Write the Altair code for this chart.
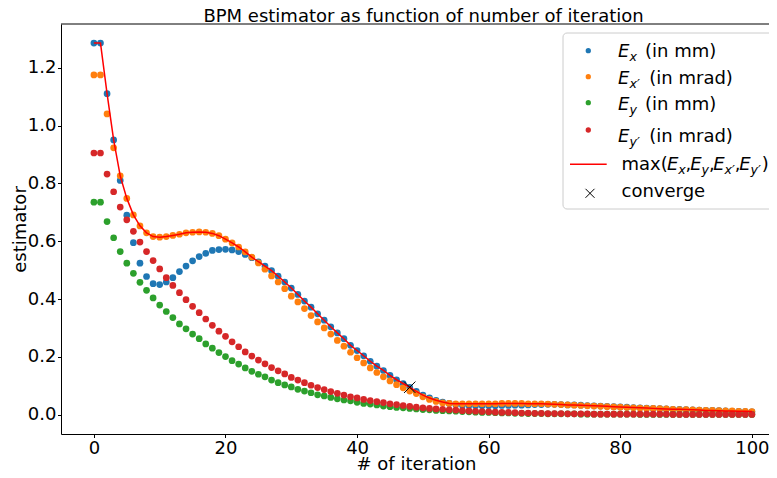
import altair as alt
import pandas as pd

# ---------------- data ----------------
iterations = list(range(101))

ex = [1.285, 1.285, 1.110, 0.950, 0.810, 0.690, 0.595, 0.524, 0.478, 0.453,
      0.450, 0.459, 0.474, 0.495, 0.514, 0.532, 0.547, 0.558, 0.568, 0.571,
      0.572, 0.570, 0.564, 0.554, 0.543, 0.529, 0.514, 0.498, 0.479, 0.459,
      0.438, 0.416, 0.393, 0.372, 0.349, 0.327, 0.304, 0.283, 0.263, 0.240,
      0.222, 0.204, 0.185, 0.168, 0.153, 0.136, 0.121, 0.108, 0.095, 0.081,
      0.068, 0.058, 0.050, 0.044, 0.039, 0.035, 0.033, 0.032, 0.031, 0.031,
      0.031, 0.031, 0.032, 0.032, 0.033, 0.033, 0.034, 0.035, 0.035, 0.036,
      0.036, 0.035, 0.034, 0.034, 0.033, 0.032, 0.031, 0.030, 0.029, 0.028,
      0.027, 0.026, 0.025, 0.024, 0.023, 0.022, 0.021, 0.020, 0.019, 0.019,
      0.018, 0.017, 0.016, 0.015, 0.015, 0.014, 0.013, 0.012, 0.012, 0.011,
      0.010]

exp = [1.175, 1.175, 1.040, 0.923, 0.826, 0.748, 0.691, 0.653, 0.629, 0.616,
       0.614, 0.616, 0.620, 0.624, 0.629, 0.631, 0.632, 0.631, 0.627, 0.619,
       0.607, 0.594, 0.580, 0.563, 0.545, 0.525, 0.503, 0.480, 0.459, 0.436,
       0.410, 0.390, 0.367, 0.343, 0.321, 0.300, 0.279, 0.257, 0.237, 0.216,
       0.197, 0.179, 0.162, 0.146, 0.131, 0.117, 0.104, 0.093, 0.082, 0.073,
       0.062, 0.053, 0.046, 0.041, 0.039, 0.038, 0.038, 0.038, 0.038, 0.038,
       0.038, 0.038, 0.039, 0.039, 0.039, 0.039, 0.038, 0.038, 0.038, 0.037,
       0.036, 0.035, 0.034, 0.033, 0.032, 0.031, 0.030, 0.029, 0.028, 0.027,
       0.026, 0.025, 0.024, 0.023, 0.022, 0.022, 0.021, 0.020, 0.019, 0.018,
       0.018, 0.017, 0.016, 0.015, 0.015, 0.014, 0.013, 0.013, 0.012, 0.012,
       0.011]

ey = [0.735, 0.735, 0.668, 0.612, 0.564, 0.524, 0.489, 0.458, 0.430, 0.404,
      0.379, 0.357, 0.336, 0.314, 0.297, 0.279, 0.263, 0.245, 0.230, 0.215,
      0.201, 0.187, 0.175, 0.162, 0.150, 0.140, 0.131, 0.120, 0.111, 0.103,
      0.096, 0.088, 0.082, 0.076, 0.069, 0.065, 0.060, 0.055, 0.051, 0.048,
      0.043, 0.039, 0.037, 0.034, 0.030, 0.028, 0.025, 0.024, 0.022, 0.020,
      0.018, 0.017, 0.015, 0.014, 0.013, 0.012, 0.011, 0.010, 0.009, 0.008,
      0.008, 0.007, 0.006, 0.006, 0.005, 0.005, 0.004, 0.004, 0.004, 0.003,
      0.003, 0.003, 0.003, 0.003, 0.002, 0.002, 0.002, 0.002, 0.002, 0.002,
      0.002, 0.002, 0.002, 0.001, 0.001, 0.001, 0.001, 0.001, 0.001, 0.001,
      0.001, 0.001, 0.001, 0.001, 0.001, 0.001, 0.001, 0.001, 0.001, 0.001,
      0.001]

eyp = [0.905, 0.905, 0.832, 0.771, 0.718, 0.674, 0.634, 0.597, 0.564, 0.533,
       0.504, 0.474, 0.447, 0.422, 0.398, 0.375, 0.353, 0.331, 0.309, 0.289,
       0.271, 0.252, 0.235, 0.217, 0.203, 0.189, 0.176, 0.163, 0.152, 0.141,
       0.129, 0.120, 0.111, 0.102, 0.094, 0.087, 0.080, 0.074, 0.068, 0.062,
       0.058, 0.053, 0.049, 0.045, 0.042, 0.038, 0.035, 0.032, 0.029, 0.026,
       0.024, 0.022, 0.020, 0.019, 0.017, 0.016, 0.014, 0.013, 0.012, 0.011,
       0.010, 0.009, 0.008, 0.008, 0.007, 0.006, 0.006, 0.005, 0.005, 0.004,
       0.004, 0.004, 0.003, 0.003, 0.003, 0.003, 0.002, 0.002, 0.002, 0.002,
       0.002, 0.002, 0.002, 0.002, 0.002, 0.002, 0.002, 0.002, 0.001, 0.001,
       0.001, 0.001, 0.001, 0.001, 0.001, 0.001, 0.001, 0.001, 0.001, 0.001,
       0.001]

converge_iteration = 48

series_names = ["Ex", "Ex'", "Ey", "Ey'"]
series_colors = ["#1f77b4", "#ff7f0e", "#2ca02c", "#d62728"]
x_ticks = [0, 20, 40, 60, 80, 100]
y_ticks = [0.0, 0.2, 0.4, 0.6, 0.8, 1.0, 1.2]
title_text = "BPM estimator as function of number of iteration"

# ---------------- tables ----------------
frames = []
for name, vals in zip(series_names, [ex, exp, ey, eyp]):
    frames.append(pd.DataFrame({"iteration": iterations, "estimator": vals, "series": name}))
points_df = pd.concat(frames, ignore_index=True)

max_df = pd.DataFrame({
    "iteration": iterations,
    "estimator": [max(a, b, c, d) for a, b, c, d in zip(ex, exp, ey, eyp)],
})
conv_df = max_df[max_df["iteration"] == converge_iteration]
dummy = pd.DataFrame({"k": [0]})

# ---------------- layout ----------------
FONT = "DejaVu Sans"
PAD_L, PAD_T, PAD_B = 53, 16, 36
W, H = 708, 410
PX0, PY0 = 8 + PAD_L, 8 + PAD_T   # page position of the plot's top-left corner


def px(v):
    return v - PX0


def py(v):
    return v - PY0


xscale = alt.Scale(domain=[-5, 102.6], nice=False, zero=False)
yscale = alt.Scale(domain=[-0.0666, 1.351], nice=False, zero=False)

xenc = alt.X("iteration:Q", scale=xscale,
             axis=alt.Axis(values=x_ticks, format="d", title="# of iteration",
                           titleX=px(416), titleY=469.5 - (PY0 + H),
                           titleBaseline="alphabetic", titleAlign="center"))
yenc = alt.Y("estimator:Q", scale=yscale,
             axis=alt.Axis(values=y_ticks, format=".1f", title="estimator",
                           titleX=px(25), titleY=H / 2, titleBaseline="alphabetic",
                           titleAlign="center"))

points = alt.Chart(points_df).mark_circle(size=45, opacity=1).encode(
    x=xenc, y=yenc,
    color=alt.Color("series:N", scale=alt.Scale(domain=series_names, range=series_colors),
                    legend=None),
)

max_line = alt.Chart(max_df).mark_line(color="red", strokeWidth=1.5).encode(x=xenc, y=yenc)

XPATH = "M-1,-1L1,1M-1,1L1,-1"
conv = alt.Chart(conv_df).mark_point(shape=XPATH, size=130, filled=False, color="black",
                                     strokeWidth=1, opacity=1).encode(x=xenc, y=yenc)

top_spine = alt.Chart(dummy).mark_rule(color="black", strokeWidth=1).encode(
    x=alt.value(0), x2=alt.value(W), y=alt.value(0))


def txt(s, x, y, size=18, italic=False, align="left"):
    return alt.Chart(dummy).mark_text(
        text=s, align=align, baseline="alphabetic", font=FONT, fontSize=size,
        fontStyle="italic" if italic else "normal", color="black",
    ).encode(x=alt.value(px(x)), y=alt.value(py(y)))


title_layer = txt(title_text, 423.5, 21.5, align="center")

# ---------------- manual legend (page coordinates) ----------------
legend_box = alt.Chart(dummy).mark_rect(fill="white", fillOpacity=0.8, stroke="#cccccc",
                                        strokeWidth=1, cornerRadius=4).encode(
    x=alt.value(px(563)), x2=alt.value(px(777)), y=alt.value(py(33)), y2=alt.value(py(209)))


def dot(color, y):
    return alt.Chart(dummy).mark_circle(size=28, opacity=1, color=color).encode(
        x=alt.value(px(588.3)), y=alt.value(py(y)))


SUB = 12.6
SUBDY = 4.3
legend_layers = [legend_box]
rows = [("x", "(in mm)", 56.7, 645.0, series_colors[0], 50.7),
        ("x\u2032", "(in mrad)", 83.7, 649.3, series_colors[1], 76.7),
        ("y", "(in mm)", 110.0, 645.0, series_colors[2], 102.7),
        ("y\u2032", "(in mrad)", 141.7, 649.3, series_colors[3], 130.0)]
for sub, unit, base, ux, col, dy in rows:
    legend_layers += [dot(col, dy),
                      txt("E", 618, base, italic=True),
                      txt(sub, 629.5, base + SUBDY, size=SUB, italic=True),
                      txt(unit, ux, base)]

legend_layers.append(alt.Chart(dummy).mark_rule(color="red", strokeWidth=1.5).encode(
    x=alt.value(px(570)), x2=alt.value(px(606.7)), y=alt.value(py(164.3))))
b5 = 170.0
legend_layers.append(txt("max(", 621.5, b5))
for e_x, sub, sx, comma_x in [(667.0, "x", 678.3, 685.5), (690.3, "y", 701.6, 709.0),
                              (713.3, "x\u2032", 724.6, 734.8), (739.3, "y\u2032", 750.6, None)]:
    legend_layers += [txt("E", e_x, b5, italic=True),
                      txt(sub, sx, b5 + SUBDY, size=SUB, italic=True)]
    if comma_x is not None:
        legend_layers.append(txt(",", comma_x, b5))
legend_layers.append(txt(")", 761.8, b5))

legend_layers.append(alt.Chart(dummy).mark_point(shape=XPATH, size=81, filled=False,
                                                 color="black", strokeWidth=1, opacity=1).encode(
    x=alt.value(px(590)), y=alt.value(py(193.3))))
legend_layers.append(txt("converge", 621.5, 196.7))

chart = alt.layer(points, max_line, conv, top_spine, title_layer, *legend_layers).properties(
    width=W, height=H,
    padding={"left": PAD_L, "top": PAD_T, "right": 0, "bottom": PAD_B},
    autosize=alt.AutoSizeParams(type="none"),
).configure(font=FONT).configure_view(strokeOpacity=0).configure_axis(
    labelFont=FONT, titleFont=FONT, labelFontSize=18, titleFontSize=18,
    titleFontWeight="normal", labelColor="black", titleColor="black",
    tickColor="black", domainColor="black", tickSize=3.5, tickWidth=1, domainWidth=1,
    labelPadding=1.5, grid=False, labelFlush=False, labelOverlap=False,
)

chart.save("out.html", embed_options={"renderer": "svg", "actions": False})
